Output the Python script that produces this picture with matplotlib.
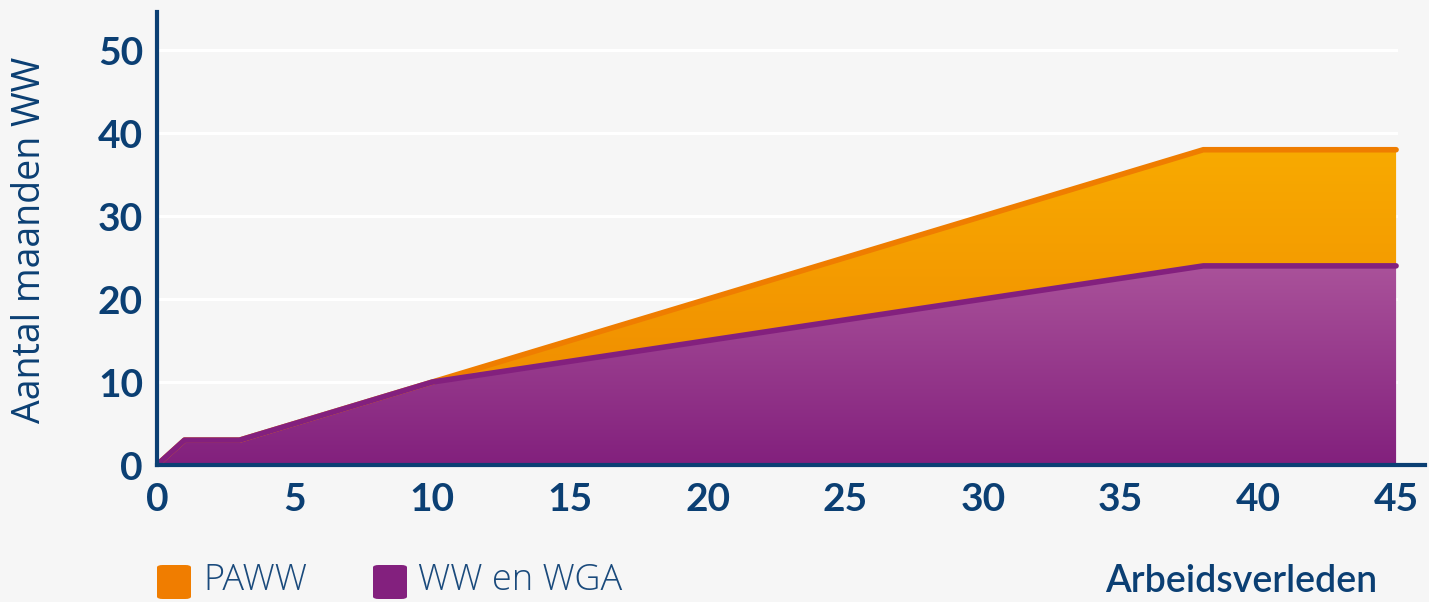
import matplotlib.pyplot as plt
import numpy as np
from matplotlib.colors import LinearSegmentedColormap
from matplotlib.patches import Polygon, FancyBboxPatch

# data
arbeidsverleden = [0, 1, 3, 10, 38, 45]
ww_wga = [0, 3, 3, 10, 24, 24]
paww = [0, 3, 3, 10, 38, 38]
x_ticks = [0, 5, 10, 15, 20, 25, 30, 35, 40, 45]
y_ticks = [0, 10, 20, 30, 40, 50]

navy = '#0b3f73'
bg = '#f6f6f6'
orange_line = '#ef7d00'
purple_line = '#83207e'

plt.rcParams['font.family'] = ['Lato', 'DejaVu Sans']

fig = plt.figure(figsize=(14.29, 6.02), dpi=100, facecolor=bg)
ax = fig.add_axes([157 / 1429, 137 / 602, 1268 / 1429, 453 / 602])
ax.set_facecolor(bg)
ax.set_xlim(0, 46.05)
ax.set_ylim(0, 54.6)

# white gridlines
for yv in y_ticks[1:]:
    ax.plot([0, 45], [yv, yv], color='white', lw=2.2, zorder=1)


def gradient_fill(xs, lower, upper, top_color, bottom_color, z):
    cmap = LinearSegmentedColormap.from_list('g', [bottom_color, top_color])
    ymax = max(upper)
    grad = np.linspace(0, 1, 256).reshape(-1, 1)
    im = ax.imshow(grad, cmap=cmap, aspect='auto', origin='lower',
                   extent=[0, max(xs), 0, ymax], zorder=z)
    verts = list(zip(xs, upper)) + list(zip(xs[::-1], lower[::-1]))
    poly = Polygon(verts, closed=True, facecolor='none', edgecolor='none')
    ax.add_patch(poly)
    im.set_clip_path(poly)


gradient_fill(arbeidsverleden, ww_wga, paww, '#f8aa00', '#ee8500', 2)
gradient_fill(arbeidsverleden, [0] * len(ww_wga), ww_wga, '#aa529a', '#82207d', 3)

ax.plot(arbeidsverleden, paww, color=orange_line, lw=4,
        solid_capstyle='round', solid_joinstyle='round', zorder=4)
ax.plot(arbeidsverleden, ww_wga, color=purple_line, lw=4,
        solid_capstyle='round', solid_joinstyle='round', zorder=5)

for s in ['top', 'right']:
    ax.spines[s].set_visible(False)
for s in ['left', 'bottom']:
    ax.spines[s].set_color(navy)
    ax.spines[s].set_linewidth(3)
    ax.spines[s].set_zorder(6)

ax.set_xticks(x_ticks)
ax.set_yticks(y_ticks)
ax.tick_params(length=0, labelcolor=navy, labelsize=28)
ax.tick_params(axis='x', pad=12)
ax.tick_params(axis='y', pad=10)
for lab in ax.get_xticklabels() + ax.get_yticklabels():
    lab.set_fontweight('bold')

fig.text(30 / 1429, 1 - 240 / 602, 'Aantal maanden WW', fontsize=27, color=navy,
         family=['Open Sans', 'DejaVu Sans'], rotation=90,
         ha='center', va='center')

# legend
legend_items = [('PAWW', '#f07d00', 157, 203), ('WW en WGA', '#83207e', 373, 418)]
for label, col, px, tx in legend_items:
    fig.patches.append(FancyBboxPatch((px / 1429, 3 / 602), 34 / 1429, 34 / 602,
                                      boxstyle='round,pad=0,rounding_size=0.004',
                                      transform=fig.transFigure, facecolor=col,
                                      edgecolor='none'))
    fig.text(tx / 1429, 21 / 602, label, fontsize=26, color='#1a4a7c',
             family=['Open Sans', 'DejaVu Sans'], fontweight=300,
             va='center', ha='left')

fig.text(1377 / 1429, 21 / 602, 'Arbeidsverleden', fontsize=27, color=navy,
         fontweight='semibold', va='center', ha='right')

fig.savefig('out.png', dpi=100, facecolor=bg)
